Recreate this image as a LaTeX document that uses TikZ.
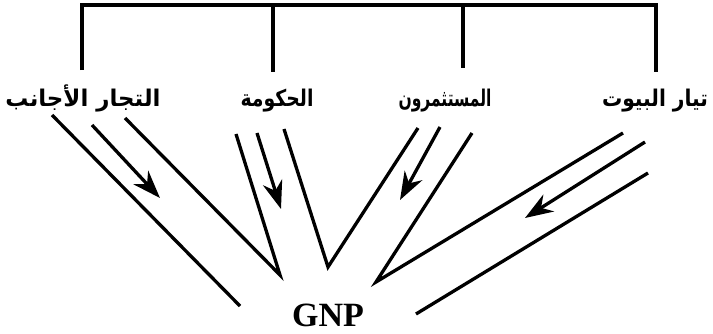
\documentclass[tikz,border=0pt]{standalone}
\usepackage{fontspec}
\usepackage{graphicx}
\setmainfont{Liberation Serif}
\newfontfamily\arabicfont[Script=Arabic]{DejaVu Sans}
\TeXXeTstate=1
\usetikzlibrary{arrows.meta}
\newcommand{\arlbl}[2]{\resizebox{#1}{\height}{\arabicfont\bfseries\fontsize{23}{27}\selectfont #2}}
\begin{document}
\begin{tikzpicture}[x=1pt,y=-1pt,
  ln/.style={line width=3.3pt},
  arr/.style={line width=3.3pt,-{Stealth[length=28pt,width=20pt,inset=9pt]}},
  lbl/.style={inner sep=0pt,anchor=base},
  gnp/.style={inner sep=0pt,anchor=base,font=\bfseries\fontsize{34}{38}\selectfont}]
\useasboundingbox (0,0) rectangle (713,333);
% labels
\node[lbl] (foreign) at (83,106) {\arlbl{155pt}{\beginR التجار الأجانب\endR}};
\node[lbl] (gov) at (277,106) {\arlbl{73pt}{\beginR الحكومة\endR}};
\node[lbl] (inv) at (445,106) {\arlbl{93pt}{\beginR المستثمرون\endR}};
\node[lbl] (house) at (655,106) {\arlbl{106pt}{\beginR تيار البيوت\endR}};
\node[gnp] (gnp) at (328,326) {GNP};
% tree
\coordinate (tl) at (82,5);
\coordinate (tr) at (656,5);
\coordinate (t2) at (273,5);
\coordinate (t3) at (463,5);
\coordinate (d1) at (82,70);
\coordinate (d2) at (273,72);
\coordinate (d3) at (463,68);
\coordinate (d4) at (656,72);
\draw[ln] (d1) -- (tl) -- (tr) -- (d4);
\draw[ln] (t2) -- (d2);
\draw[ln] (t3) -- (d3);
% flow lines
\coordinate (f1a) at (52,115);   \coordinate (f1b) at (240,306);
\coordinate (faa) at (92,125);   \coordinate (fab) at (160,198);
\coordinate (f3a) at (125,118);  \coordinate (v1) at (280,275);
\coordinate (g1a) at (236,134);
\coordinate (gaa) at (257,133);  \coordinate (gab) at (281,209);
\coordinate (g3a) at (284,129);  \coordinate (v2) at (328,267);
\coordinate (i1a) at (418,128);
\coordinate (iaa) at (440,127);  \coordinate (iab) at (400,200);
\coordinate (i3a) at (472,133);  \coordinate (v3) at (376,282);
\coordinate (h1a) at (623,133);
\coordinate (haa) at (645,142);  \coordinate (hab) at (525,218);
\coordinate (h3a) at (648,173);  \coordinate (h3b) at (416,314);
\draw[ln] (f1a) -- (f1b);
\draw[arr] (faa) -- (fab);
\draw[ln,line join=miter] (f3a) -- (v1) -- (g1a);
\draw[arr] (gaa) -- (gab);
\draw[ln,line join=miter] (g3a) -- (v2) -- (i1a);
\draw[arr] (iaa) -- (iab);
\draw[ln,line join=miter] (i3a) -- (v3) -- (h1a);
\draw[arr] (haa) -- (hab);
\draw[ln] (h3a) -- (h3b);
\end{tikzpicture}
\end{document}
